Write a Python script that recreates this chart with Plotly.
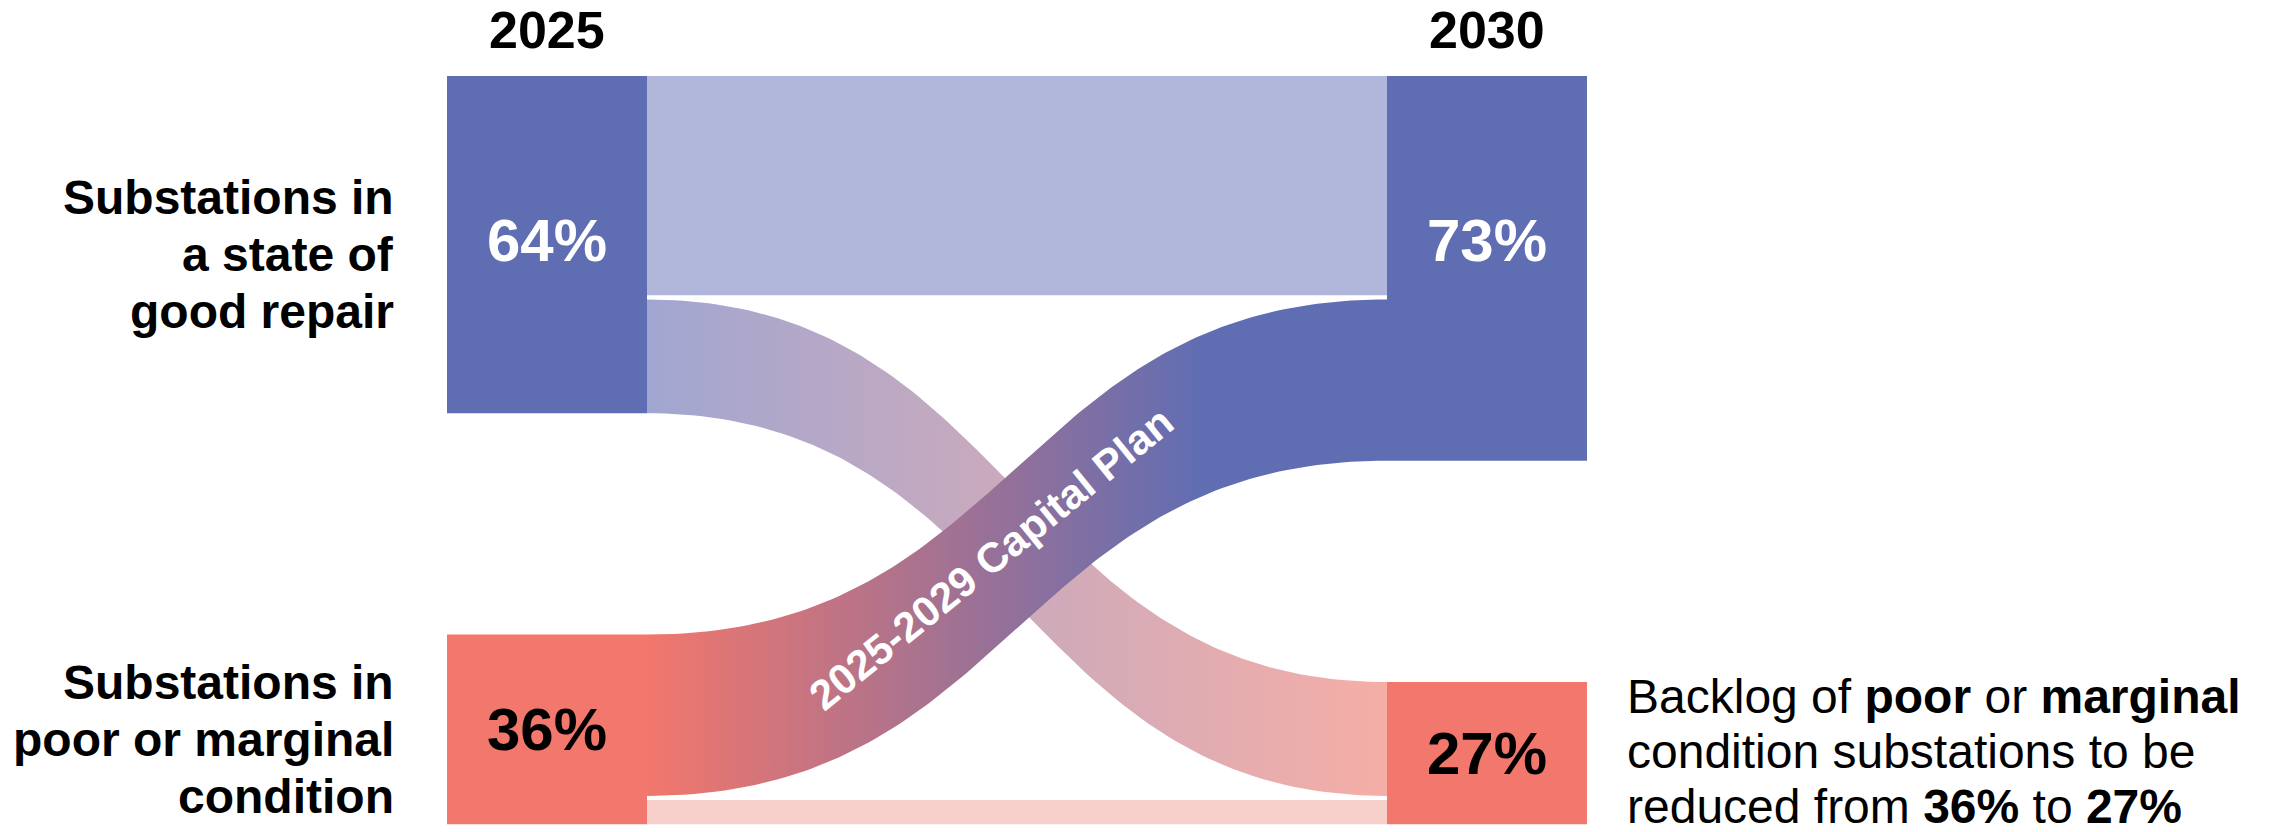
import numpy as np
import plotly.graph_objects as go

# ---- data -------------------------------------------------------------
years = ["2025", "2030"]
conditions = ["good", "poor"]
condition_labels = [
    ["Substations in", "a state of", "good repair"],
    ["Substations in", "poor or marginal", "condition"],
]
share_2025 = [64, 36]   # % of substations by condition
share_2030 = [73, 27]
# movement between conditions over the plan period (% of fleet)
flow_source = ["good", "good", "poor", "poor"]
flow_target = ["good", "poor", "good", "poor"]
flow_value = [42, 22, 31, 5]
plan_label = "2025-2029 Capital Plan"
note_lines = [
    "Backlog of <b>poor</b> or <b>marginal</b>",
    "condition substations to be",
    "reduced from <b>36%</b> to <b>27%</b>",
]

# ---- layout constants -------------------------------------------------
W, H = 2281, 832
PX_X = 200.0          # pixels per x unit (one node width)
PX_Y = 5.27           # pixels per percentage point
NODE_W = 1.0
COL_X = [0.0, 4.7]    # left edge of each year column
GAP = 42              # vertical gap between condition nodes (in % units)
SEP = 0.4             # half-gap between stacked ribbons
X0 = -447 / PX_X
Y0 = -76 / PX_Y

BLUE = "#5F6DB3"
SALMON = "#F2776C"
FONT = "Liberation Sans, Arial, Helvetica, sans-serif"

shares = [share_2025, share_2030]
node_top = []
for col in shares:
    tops = [0.0, col[0] + GAP]
    node_top.append(tops)

node_fill = {"good": BLUE, "poor": SALMON}
node_text = {"good": "white", "poor": "black"}

# ribbon styles: flat colour or horizontal gradient (start/stop in x units)
flow_style = [
    dict(flat="#B1B7DB"),
    dict(grad=("#A1A6D1", "#F6AEA6"), start=COL_X[0] + NODE_W, stop=COL_X[1]),
    dict(grad=(SALMON, BLUE), start=COL_X[0] + NODE_W, stop=3.8),
    dict(flat="#F8D0CB"),
]
draw_order = [0, 1, 3, 2]   # the capital-plan ribbon sits on top


def stack_positions():
    """Top/bottom of every flow at its source and target node."""
    src = {}
    tgt = {}
    # source side: ordered by target
    for ci, c in enumerate(conditions):
        y = node_top[0][ci]
        idx = [i for i in range(len(flow_value)) if flow_source[i] == c]
        idx.sort(key=lambda i: conditions.index(flow_target[i]))
        for k, i in enumerate(idx):
            a, b = y, y + flow_value[i]
            if k > 0:
                a += SEP
            if k < len(idx) - 1:
                b -= SEP
            src[i] = (a, b)
            y += flow_value[i]
    # target side: ordered by source
    for ci, c in enumerate(conditions):
        y = node_top[1][ci]
        idx = [i for i in range(len(flow_value)) if flow_target[i] == c]
        idx.sort(key=lambda i: conditions.index(flow_source[i]))
        for k, i in enumerate(idx):
            a, b = y, y + flow_value[i]
            if k > 0:
                a += SEP
            if k < len(idx) - 1:
                b -= SEP
            tgt[i] = (a, b)
            y += flow_value[i]
    return src, tgt


def ribbon(xa, xb, ya, yb, n=120, curv=0.5):
    t = np.linspace(0, 1, n)
    ca = xa + curv * (xb - xa)
    cb = xb - curv * (xb - xa)
    bx = (1 - t) ** 3 * xa + 3 * (1 - t) ** 2 * t * ca + 3 * (1 - t) * t ** 2 * cb + t ** 3 * xb
    s = 3 * t ** 2 - 2 * t ** 3
    top = ya[0] + (yb[0] - ya[0]) * s
    bot = ya[1] + (yb[1] - ya[1]) * s
    return bx, top, bot, t


fig = go.Figure()
src, tgt = stack_positions()
xa = COL_X[0] + NODE_W
xb = COL_X[1]
plan_curve = None
for i in draw_order:
    bx, top, bot, t = ribbon(xa, xb, src[i], tgt[i])
    xs = np.concatenate([bx, bx[::-1]])
    ys = np.concatenate([top, bot[::-1]])
    st = flow_style[i]
    kw = dict(x=xs, y=ys, mode="lines", fill="toself", line=dict(width=0),
              hoverinfo="skip", showlegend=False)
    if "flat" in st:
        kw["fillcolor"] = st["flat"]
    else:
        kw["fillgradient"] = dict(type="horizontal",
                                  colorscale=[[0, st["grad"][0]], [1, st["grad"][1]]],
                                  start=st["start"], stop=st["stop"])
    fig.add_trace(go.Scatter(**kw))
    if flow_source[i] == "poor" and flow_target[i] == "good":
        plan_curve = (bx, (top + bot) / 2, t)

# ---- nodes ------------------------------------------------------------
shapes = []
annotations = []
for col, year in enumerate(years):
    x_left = COL_X[col]
    for ci, c in enumerate(conditions):
        y_top = node_top[col][ci]
        y_bot = y_top + shares[col][ci]
        shapes.append(dict(type="rect", xref="x", yref="y", x0=x_left, x1=x_left + NODE_W,
                           y0=y_top, y1=y_bot, fillcolor=node_fill[c], line=dict(width=0),
                           layer="above"))
        # percentage label; the good row shares the 2025 node's centre line
        if c == "good":
            y_lab = node_top[0][0] + shares[0][0] / 2
            ysh = 4
        else:
            y_lab = y_top + shares[col][ci] / 2
            ysh = 0
        annotations.append(dict(x=x_left + NODE_W / 2, y=y_lab, xref="x", yref="y",
                                text=f"<b>{shares[col][ci]}%</b>", showarrow=False,
                                yshift=ysh,
                                font=dict(family=FONT, size=60, color=node_text[c])))
    annotations.append(dict(x=x_left + NODE_W / 2, y=0, xref="x", yref="y",
                            text=f"<b>{year}</b>", showarrow=False, yshift=46,
                            font=dict(family=FONT, size=52, color="black")))

# condition labels to the left of the 2025 column
for ci, c in enumerate(conditions):
    yc = node_top[0][ci] + share_2025[ci] / 2
    for k, line in enumerate(condition_labels[ci]):
        annotations.append(dict(x=COL_X[0], y=yc, xref="x", yref="y",
                                text=f"<b>{line}</b>", showarrow=False,
                                xanchor="right", xshift=-51, yshift=-10 - 57 * (k - 1),
                                font=dict(family=FONT, size=48, color="black")))

# note to the right of the 2030 poor node
yc = node_top[1][1] + share_2030[1] / 2
for k, line in enumerate(note_lines):
    annotations.append(dict(x=COL_X[1] + NODE_W, y=yc, xref="x", yref="y",
                            text=line, showarrow=False, xanchor="left", xshift=38,
                            yshift=2 - 55 * (k - 1),
                            font=dict(family=FONT, size=48, color="black")))

# capital plan label along the ribbon
bx, mid, t = plan_curve
k = int(np.argmin(np.abs(t - 0.45)))
annotations.append(dict(x=bx[k], y=mid[k], xref="x", yref="y", text=f"<b>{plan_label}</b>",
                        showarrow=False, textangle=-39, yshift=12,
                        font=dict(family=FONT, size=42, color="white")))

fig.update_layout(
    width=W, height=H,
    margin=dict(l=0, r=0, t=0, b=0),
    paper_bgcolor="white", plot_bgcolor="white",
    xaxis=dict(range=[X0, X0 + W / PX_X], visible=False, fixedrange=True),
    yaxis=dict(range=[Y0 + H / PX_Y, Y0], visible=False, fixedrange=True),
    shapes=shapes, annotations=annotations, showlegend=False,
)

fig.write_html("out.html")
